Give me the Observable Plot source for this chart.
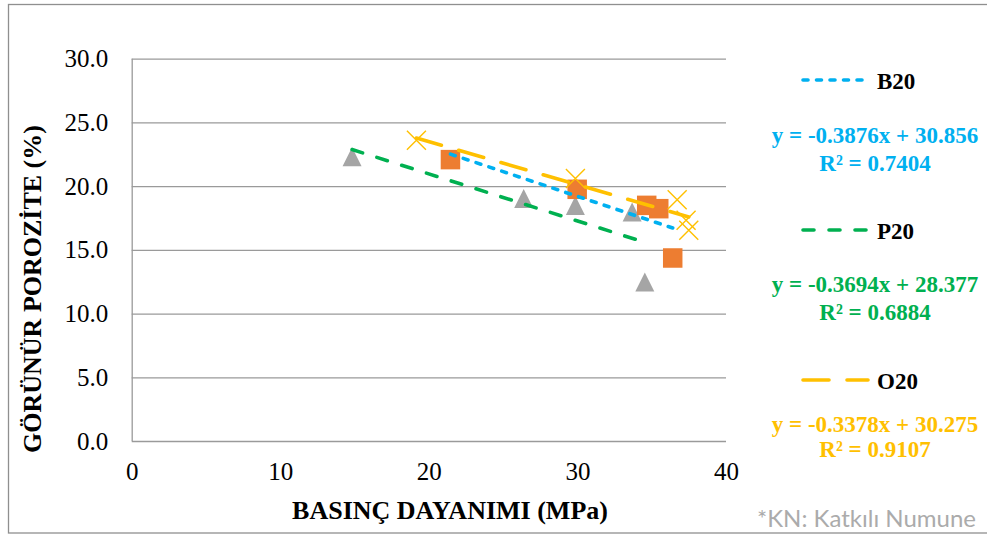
<!DOCTYPE html>
<html>
<head>
<meta charset="utf-8">
<script src="https://cdn.jsdelivr.net/npm/d3@7"></script>
<script src="https://cdn.jsdelivr.net/npm/@observablehq/plot@0.6"></script>
<style>
  html, body { margin: 0; padding: 0; background: #fff; }
  #chart svg { display: block; }
</style>
</head>
<body>
<div id="chart"></div>
<script>
// Basınç dayanımı (MPa) vs görünür porozite (%) for three mixes
const seriesNames = ["B20", "P20", "O20"];

const b20Strength = [21.42, 29.95, 34.63, 35.44, 36.38];
const b20Porosity = [22.12, 19.79, 18.53, 18.27, 14.40];

const p20Strength = [14.80, 26.35, 29.83, 33.65, 34.50];
const p20Porosity = [22.34, 19.06, 18.51, 18.01, 12.51];

const o20Strength = [19.13, 29.83, 36.68, 37.28, 37.46];
const o20Porosity = [23.64, 20.63, 18.98, 17.36, 16.57];

// Linear trendline coefficients as printed next to each series
const slopes = [-0.3876, -0.3694, -0.3378];
const intercepts = [30.856, 28.377, 30.275];
const rSquared = [0.7404, 0.6884, 0.9107];

const xTicks = [0, 10, 20, 30, 40];
const yTicks = [0, 5, 10, 15, 20, 25, 30];

const lineColors = ["#00B0F0", "#00B050", "#FFC000"];
const dashes = ["5,8.5", "11,15", "26,18"];

const toRows = (xs, ys) => xs.map((x, i) => ({x, y: ys[i]}));
const b20 = toRows(b20Strength, b20Porosity);
const p20 = toRows(p20Strength, p20Porosity);
const o20 = toRows(o20Strength, o20Porosity);
const groups = [b20, p20, o20];

// Trendline endpoints over each series' strength range
const trend = groups.map((rows, i) => {
  const [x0, x1] = d3.extent(rows, d => d.x);
  return [x0, x1].map(x => ({x, y: slopes[i] * x + intercepts[i]}));
});

// Marker shapes centred on their bounding box
const boxTriangle = {draw(ctx, size) { const s = Math.sqrt(size) / 2; ctx.moveTo(0, -s); ctx.lineTo(s, s); ctx.lineTo(-s, s); ctx.closePath(); }};
const boxSquare = {draw(ctx, size) { const s = Math.sqrt(size) / 2; ctx.rect(-s, -s, 2 * s, 2 * s); }};
const boxCross = {draw(ctx, size) { const s = Math.sqrt(size) / 2; ctx.moveTo(-s, -s); ctx.lineTo(s, s); ctx.moveTo(-s, s); ctx.lineTo(s, -s); }};
const rFor = side => side / Math.sqrt(Math.PI);

const serif = "'Liberation Serif', 'Times New Roman', serif";

const svg = Plot.plot({
  width: 987,
  height: 535,
  marginLeft: 131.7,
  marginRight: 261,
  marginTop: 58.7,
  marginBottom: 94,
  style: {fontSize: "25px", color: "#000", background: "transparent", overflow: "visible"},
  x: {domain: [0, 40], label: null},
  y: {domain: [0, 30], label: null},
  marks: [
    Plot.gridY(yTicks, {stroke: "#9a9a9a", strokeOpacity: 1, strokeWidth: 1.3}),
    Plot.ruleX([0], {stroke: "#9a9a9a", strokeWidth: 1.3}),
    Plot.axisY(yTicks, {tickSize: 0, tickPadding: 24, tickFormat: d => d.toFixed(1), fontSize: 25, fill: "#000", label: null}),
    Plot.axisX(xTicks, {tickSize: 0, tickPadding: 21, tickFormat: d => String(d), fontSize: 25, fill: "#000", label: null}),
    Plot.dot(p20, {x: "x", y: "y", symbol: boxTriangle, r: rFor(19), fill: "#A5A5A5", stroke: "none"}),
    Plot.dot(b20, {x: "x", y: "y", symbol: boxSquare, r: rFor(19.5), fill: "#ED7D31", stroke: "none"}),
    Plot.dot(o20, {x: "x", y: "y", symbol: boxCross, r: rFor(19), fill: "none", stroke: "#FFC000", strokeWidth: 1.4}),
    ...trend.map((pts, i) => Plot.line(pts, {
      x: "x", y: "y", stroke: lineColors[i], strokeWidth: 3.6,
      strokeDasharray: dashes[i], strokeLinecap: "round"
    }))
  ]
});

document.getElementById("chart").appendChild(svg);

const g = d3.select(svg);

// Tick labels in a serif face
g.selectAll("text").style("font-family", serif);

// Outer chart border
g.insert("rect", ":first-child")
  .attr("x", 8.5).attr("y", 4.5).attr("width", 1000).attr("height", 528.5)
  .attr("fill", "#fff").attr("stroke", "#8f8f8f").attr("stroke-width", 1.3);

// Axis titles
g.append("text")
  .attr("x", 450).attr("y", 519)
  .attr("text-anchor", "middle")
  .style("font-family", serif).attr("font-weight", "bold").attr("font-size", 26)
  .text("BASINÇ DAYANIMI (MPa)");

g.append("text")
  .attr("transform", "translate(41,289) rotate(-90)")
  .attr("text-anchor", "middle")
  .style("font-family", serif).attr("font-weight", "bold").attr("font-size", 26)
  .text("GÖRÜNÜR POROZİTE (%)");

// Trendline legend with equations
const legendTop = [80, 230, 380];
const eqBase = [[143, 171], [292, 320], [432, 457]];
seriesNames.forEach((name, i) => {
  const y = legendTop[i];
  g.append("line")
    .attr("x1", 803).attr("x2", 868).attr("y1", y).attr("y2", y)
    .attr("stroke", lineColors[i]).attr("stroke-width", 3.6)
    .attr("stroke-dasharray", dashes[i]).attr("stroke-linecap", "round");
  g.append("text")
    .attr("x", 877).attr("y", y + 8.5)
    .attr("text-anchor", "start")
    .style("font-family", serif).attr("font-weight", "bold").attr("font-size", 23)
    .text(name);
  const eq = g.append("text")
    .attr("text-anchor", "middle")
    .style("font-family", serif).attr("font-weight", "bold").attr("font-size", 23)
    .attr("fill", lineColors[i]);
  eq.append("tspan").attr("x", 875).attr("y", eqBase[i][0])
    .text(`y = ${slopes[i]}x + ${intercepts[i]}`);
  eq.append("tspan").attr("x", 875).attr("y", eqBase[i][1])
    .text(`R² = ${rSquared[i]}`);
});

// Footnote
g.append("text")
  .attr("x", 976).attr("y", 527)
  .attr("text-anchor", "end")
  .style("font-family", "Lato, 'Open Sans', sans-serif").attr("font-size", 24)
  .attr("fill", "#ababab")
  .text("*KN: Katkılı Numune");
</script>
</body>
</html>
